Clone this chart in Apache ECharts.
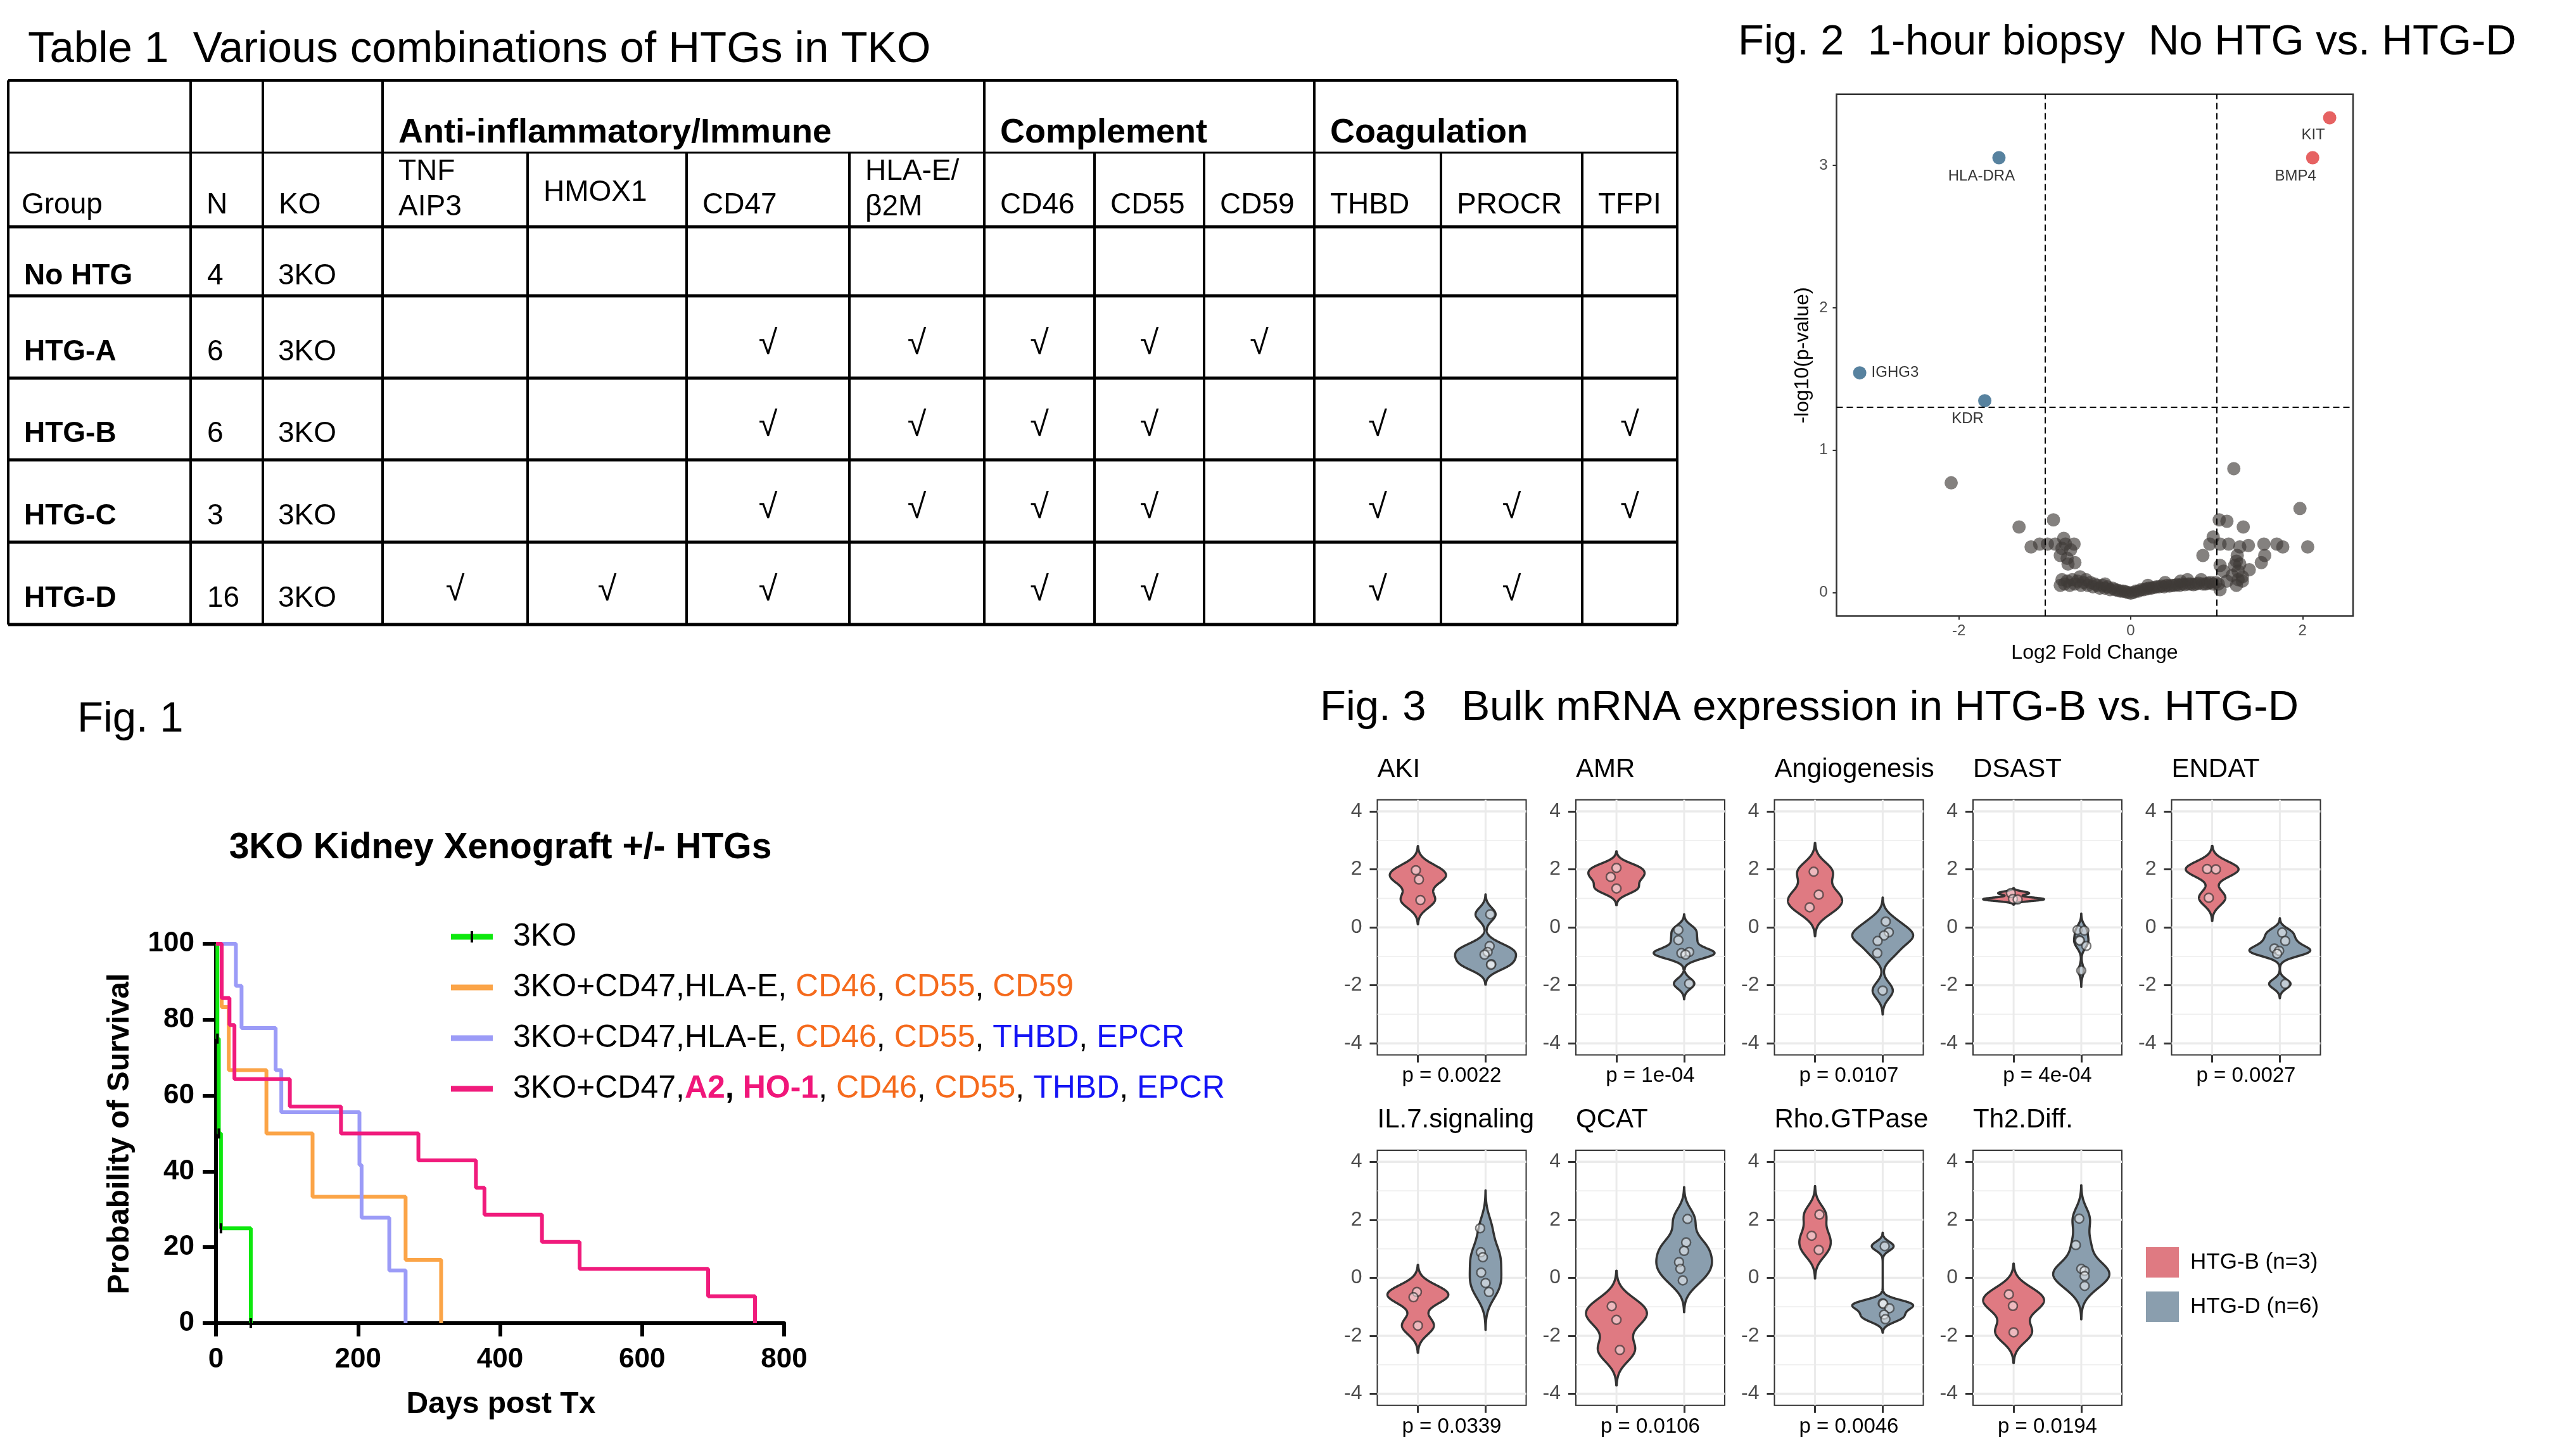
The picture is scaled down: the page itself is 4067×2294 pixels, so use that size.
<!DOCTYPE html>
<html><head><meta charset="utf-8">
<script src="https://cdn.jsdelivr.net/npm/echarts@6/dist/echarts.min.js"></script>
<style>html,body{margin:0;padding:0;background:#fff}#c{width:4067px;height:2294px}</style>
</head><body><div id="c"></div>
<script>
// ===================== DATA =====================
// Table 1
const tableGroupHeaders = ['Anti-inflammatory/Immune', 'Complement', 'Coagulation'];
const tableColHeaders = ['Group', 'N', 'KO', 'TNF\nAIP3', 'HMOX1', 'CD47', 'HLA-E/\n\u03b22M', 'CD46', 'CD55', 'CD59', 'THBD', 'PROCR', 'TFPI'];
const tableGroups = ['No HTG', 'HTG-A', 'HTG-B', 'HTG-C', 'HTG-D'];
const tableN = ['4', '6', '6', '3', '16'];
const tableKO = ['3KO', '3KO', '3KO', '3KO', '3KO'];
// checks for columns TNFAIP3..TFPI
const tableChecks = [
  [0,0,0,0,0,0,0,0,0,0],
  [0,0,1,1,1,1,1,0,0,0],
  [0,0,1,1,1,1,0,1,0,1],
  [0,0,1,1,1,1,0,1,1,1],
  [1,1,1,0,1,1,0,1,1,0]
];

// Fig. 1 Kaplan-Meier
const kmNames = ['3KO', '3KO+CD47,HLA-E, CD46, CD55, CD59', '3KO+CD47,HLA-E, CD46, CD55, THBD, EPCR', '3KO+CD47,A2, HO-1, CD46, CD55, THBD, EPCR'];
const km3KODays = [0, 2, 4, 7, 49];
const km3KOSurv = [100, 75, 50, 25, 0];
const kmADays = [0, 8, 18, 71, 136, 267, 317];
const kmASurv = [100, 83.3, 66.7, 50, 33.3, 16.7, 0];
const kmBDays = [0, 28, 36, 84, 92, 202, 205, 244, 267];
const kmBSurv = [100, 88.9, 77.8, 66.7, 55.6, 41.7, 27.8, 13.9, 0];
const kmDDays = [0, 8, 19, 26, 104, 176, 285, 366, 378, 459, 512, 693, 759];
const kmDSurv = [100, 85.7, 78.6, 64.3, 57.1, 50, 42.9, 35.7, 28.6, 21.4, 14.3, 7.1, 0];
const kmXTicks = [0, 200, 400, 600, 800];
const kmYTicks = [0, 20, 40, 60, 80, 100];

// Fig. 2 volcano
const volcanoNS = [
[-2.09,0.77],[1.20,0.87],[1.97,0.59],[-0.90,0.51],[-1.30,0.46],[1.03,0.51],[1.12,0.50],[1.31,0.46],
[-1.16,0.32],[-1.06,0.34],[-0.97,0.34],[-0.88,0.34],[-0.78,0.38],[-0.76,0.34],[-0.66,0.34],[-0.80,0.31],[-0.82,0.26],[-0.74,0.24],[-0.65,0.21],[-0.73,0.20],[-0.70,0.30],
[0.96,0.39],[0.92,0.34],[1.04,0.34],[1.14,0.34],[1.27,0.32],[1.37,0.33],[1.55,0.34],[1.70,0.34],[1.77,0.32],[2.06,0.32],[0.84,0.26],[1.24,0.26],[1.56,0.26],[1.52,0.21],[1.23,0.22],[1.21,0.19],[1.38,0.16],[1.04,0.19],[1.08,0.15],[1.30,0.11],[1.30,0.08],[1.25,0.09],[1.27,0.20],[1.25,0.15],[1.02,0.06],[1.12,0.08],[1.23,0.05],[1.04,0.02],[1.18,0.12],
[-0.82,0.05],[-0.80,0.09],[-0.77,0.06],[-0.74,0.08],[-0.71,0.05],[-0.68,0.09],[-0.65,0.06],[-0.62,0.08],[-0.59,0.11],[-0.58,0.05],[-0.55,0.07],[-0.52,0.09],[-0.50,0.05],[-0.47,0.07],[-0.44,0.04],[-0.42,0.06],[-0.39,0.05],[-0.36,0.03],[-0.33,0.05],[-0.30,0.03],[-0.27,0.04],[-0.24,0.02],[-0.21,0.03],[-0.18,0.02],[-0.15,0.015],[-0.12,0.01],[-0.09,0.01],[-0.06,0.005],[-0.03,0.0],[0.0,-0.005],[0.03,0.0],[0.06,0.01],[0.09,0.01],[0.12,0.02],[0.15,0.02],[0.18,0.025],[0.21,0.03],[0.24,0.03],[0.27,0.035],[0.30,0.04],[0.33,0.04],[0.36,0.045],[0.39,0.04],[0.42,0.05],[0.45,0.045],[0.48,0.05],[0.51,0.05],[0.54,0.055],[0.57,0.05],[0.60,0.06],[0.63,0.055],[0.66,0.09],[0.67,0.06],[0.70,0.06],[0.73,0.055],[0.76,0.06],[0.79,0.065],[0.82,0.09],[0.84,0.06],[0.87,0.06],[0.90,0.065],[0.93,0.07],[0.96,0.06],[0.99,0.07],[0.58,0.08],[0.40,0.07],[-0.30,0.06],[0.20,0.05]
];
const volcanoDownGenes = ['HLA-DRA', 'IGHG3', 'KDR'];
const volcanoDownValues = [[-1.534, 3.054], [-3.155, 1.543], [-1.699, 1.347]];
const volcanoUpGenes = ['KIT', 'BMP4'];
const volcanoUpValues = [[2.316, 3.335], [2.118, 3.054]];
const volcanoFcCut = 1;
const volcanoPCut = 1.30103;
const volcanoXTicks = [-2, 0, 2];
const volcanoYTicks = [0, 1, 2, 3];

// Fig. 3 violins
const violinPanels = ['AKI', 'AMR', 'Angiogenesis', 'DSAST', 'ENDAT', 'IL.7.signaling', 'QCAT', 'Rho.GTPase', 'Th2.Diff.'];
const violinPValues = ['p = 0.0022', 'p = 1e-04', 'p = 0.0107', 'p = 4e-04', 'p = 0.0027', 'p = 0.0339', 'p = 0.0106', 'p = 0.0046', 'p = 0.0194'];
const violinGroups = ['HTG-B (n=3)', 'HTG-D (n=6)'];
const htgB = [
  [1.97, 1.65, 0.94], [2.05, 1.74, 1.34], [1.92, 1.13, 0.69], [1.18, 0.98, 0.96], [2.01, 2.00, 1.02],
  [-0.49, -0.67, -1.65], [-0.98, -1.45, -2.49], [2.18, 1.45, 0.96], [-0.57, -0.97, -1.88]
];
const htgBJitter = [
  [-0.03, 0.015, 0.037], [0, -0.085, 0], [-0.02, 0.055, -0.08], [-0.04, -0.01, 0.06], [-0.075, 0.055, -0.05],
  [-0.015, -0.065, 0], [-0.07, 0, 0.05], [0.065, -0.05, 0.055], [-0.07, -0.01, 0]
];
const htgD = [
  [0.45, -0.65, -0.85, -0.94, -1.27, -1.29], [-0.09, -0.44, -0.85, -0.89, -0.94, -1.94], [0.20, -0.17, -0.28, -0.47, -0.89, -2.18],
  [-0.09, -0.11, -0.44, -0.46, -0.64, -1.49], [-0.18, -0.47, -0.73, -0.81, -0.91, -1.95], [1.71, 0.88, 0.71, 0.18, -0.18, -0.49],
  [2.03, 1.22, 0.93, 0.54, 0.31, -0.09], [1.09, -0.88, -0.90, -1.05, -1.27, -1.43], [2.04, 1.13, 0.31, 0.24, 0.06, -0.28]
];
const htgDJitter = [
  [0.07, 0.06, 0.03, -0.015, 0.085, 0.08], [-0.085, -0.085, 0.075, -0.04, 0.02, 0.075], [0.045, 0.09, 0.02, -0.075, -0.08, 0],
  [-0.055, 0.045, -0.03, -0.02, 0.075, 0], [0.035, 0.08, -0.08, -0.01, -0.04, 0.08], [-0.08, -0.07, -0.04, -0.065, 0, 0.05],
  [0.05, 0.03, 0, -0.075, -0.055, -0.02], [0.03, 0, 0.01, 0.1, 0.02, 0.04], [-0.03, -0.08, 0, 0.05, 0.05, 0.05]
];
const violinYTicks = [-4, -2, 0, 2, 4];
const violinYMinor = [-3, -1, 1, 3];

// ===================== STYLE / LAYOUT =====================
const FONT = "'Liberation Sans', Arial, Helvetica, sans-serif";
const W = 4067, H = 2294;
const colX = [13, 301, 415, 604, 833, 1084, 1341, 1554, 1728, 1901, 2075, 2275, 2498, 2648];
const rowY = [127, 241, 358, 467, 597, 726, 856, 986];
const groupHeaderCols = [[3, 6], [7, 9], [10, 12]];

const kmColors = ['#0ee80e', '#fba447', '#9b9bf7', '#f01b7c'];
const richStyles = {
  k: { color: '#000', fontSize: 50, fontFamily: FONT },
  o: { color: '#f56a1c', fontSize: 50, fontFamily: FONT },
  b: { color: '#1414f5', fontSize: 50, fontFamily: FONT },
  m: { color: '#f0167a', fontSize: 50, fontFamily: FONT, fontWeight: 'bold' },
  kb: { color: '#000', fontSize: 50, fontFamily: FONT, fontWeight: 'bold' }
};
const kmLegendRich = {};
kmLegendRich[kmNames[0]] = '{k|3KO}';
kmLegendRich[kmNames[1]] = '{k|3KO+CD47,HLA-E, }{o|CD46}{k|, }{o|CD55}{k|, }{o|CD59}';
kmLegendRich[kmNames[2]] = '{k|3KO+CD47,HLA-E, }{o|CD46}{k|, }{o|CD55}{k|, }{b|THBD}{k|, }{b|EPCR}';
kmLegendRich[kmNames[3]] = '{k|3KO+CD47,}{m|A2}{kb|, }{m|HO-1}{k|, }{o|CD46}{k|, }{o|CD55}{k|, }{b|THBD}{k|, }{b|EPCR}';

const violinColors = ['#df7a82', '#8a9eae'];
const vLeft = [2174.5, 2488, 2801.5, 3115, 3428.5];
const vTop = [1262.7, 1816];
const vW = 235, vH = 402.8;
const volcanoLabelOffset = { 'KIT': [-26, 27.5], 'BMP4': [-27, 29], 'HLA-DRA': [-27.5, 29], 'KDR': [-27, 28.5] };

// ===================== HELPERS =====================
const G = [];
function txt(s, x, y, size, opts) {
  opts = opts || {};
  G.push({
    type: 'text', x: x, y: y, rotation: opts.rot || 0, z: 10, silent: true,
    style: {
      text: s, fill: opts.color || '#000', fontSize: size, fontFamily: opts.family || FONT,
      fontWeight: opts.bold ? 'bold' : 'normal', align: opts.align || 'left', verticalAlign: 'middle'
    }
  });
}
function line(x1, y1, x2, y2, w, color) {
  G.push({ type: 'line', z: 9, silent: true, shape: { x1: x1, y1: y1, x2: x2, y2: y2 }, style: { stroke: color || '#000', lineWidth: w } });
}

// ---------- Titles
txt('Table 1  Various combinations of HTGs in TKO', 44, 79, 69);
txt('Fig. 2  1-hour biopsy  No HTG vs. HTG-D', 2744, 68, 67);
txt('Fig. 1', 122, 1137, 67);
txt('Fig. 3   Bulk mRNA expression in HTG-B vs. HTG-D', 2084, 1119, 67);

// ---------- Table
rowY.forEach(function (y, i) { line(colX[0], y, colX[13], y, i === 1 ? 3 : (i === 0 ? 4 : 5)); });
[0, 1, 2, 3, 7, 10, 13].forEach(function (c) { line(colX[c], rowY[0], colX[c], rowY[1], 4); });
colX.forEach(function (x) { line(x, rowY[1], x, rowY[7], 4); });
tableGroupHeaders.forEach(function (s, i) { txt(s, colX[groupHeaderCols[i][0]] + 25, 210, 54, { bold: true }); });
tableColHeaders.forEach(function (s, c) {
  const x = colX[c] + (c === 0 ? 21 : 25);
  const parts = s.split('\n');
  if (parts.length === 2) { txt(parts[0], x, 271, 46); txt(parts[1], x, 327, 46); }
  else txt(s, x, s === 'HMOX1' ? 304 : 324, 46);
});
tableGroups.forEach(function (g, r) {
  const cy = (rowY[r + 2] + rowY[r + 3]) / 2;
  txt(g, 38, cy + 24, 46, { bold: true });
  txt(tableN[r], colX[1] + 26, cy + 24, 46);
  txt(tableKO[r], colX[2] + 24, cy + 24, 46);
  tableChecks[r].forEach(function (v, k) {
    if (v) txt('\u221a', (colX[k + 3] + colX[k + 4]) / 2, cy + 12, 54, { align: 'center' });
  });
});

// ---------- Fig 1 texts
txt('3KO Kidney Xenograft +/- HTGs', 790, 1339, 57, { bold: true, align: 'center' });
txt('Days post Tx', 791, 2218, 48, { bold: true, align: 'center' });
txt('Probability of Survival', 190, 1790, 48, { bold: true, align: 'center', rot: Math.PI / 2 });
// censor tick drawn on the 3KO legend key
line(745, 1470, 745, 1488, 4, '#000');

// ---------- Fig 2 texts
txt('Log2 Fold Change', 3307, 1031, 32, { align: 'center' });
txt('-log10(p-value)', 2846, 561, 32, { align: 'center', rot: Math.PI / 2 });

// ---------- Fig 3 texts
violinPanels.forEach(function (name, i) {
  const r = i < 5 ? 0 : 1, c = i < 5 ? i : i - 5;
  txt(name, vLeft[c], r === 0 ? 1215 : 1768, 42);
  txt(violinPValues[i], vLeft[c] + vW / 2, r === 0 ? 1699 : 2253, 33, { align: 'center' });
});

// ===================== STATS for violins (ggplot-like gaussian KDE, bw.nrd0) =====================
function q7(s, p) { const h = (s.length - 1) * p, lo = Math.floor(h), hi = Math.min(lo + 1, s.length - 1); return s[lo] + (h - lo) * (s[hi] - s[lo]); }
function bwNrd0(x) {
  const n = x.length, m = x.reduce(function (a, b) { return a + b; }, 0) / n;
  const sd = Math.sqrt(x.reduce(function (a, b) { return a + (b - m) * (b - m); }, 0) / (n - 1));
  const s = x.slice().sort(function (a, b) { return a - b; });
  let lo = Math.min(sd, (q7(s, 0.75) - q7(s, 0.25)) / 1.34);
  if (!(lo > 0)) lo = sd > 0 ? sd : 1;
  return 0.9 * lo * Math.pow(n, -0.2);
}
function kde(x) {
  const bw = bwNrd0(x), lo = Math.min.apply(null, x) - 3 * bw, hi = Math.max.apply(null, x) + 3 * bw;
  const ys = [], ds = [];
  for (let k = 0; k < 512; k++) {
    const y = lo + (hi - lo) * k / 511; let s = 0;
    x.forEach(function (xi) { const z = (y - xi) / bw; s += Math.exp(-0.5 * z * z); });
    ys.push(y); ds.push(s / (x.length * bw * Math.sqrt(2 * Math.PI)));
  }
  return { y: ys, d: ds };
}
const dens = violinPanels.map(function (_, i) { return [kde(htgB[i]), kde(htgD[i])]; });
const densMax = dens.map(function (p) { return Math.max(Math.max.apply(null, p[0].d), Math.max.apply(null, p[1].d)); });

// ===================== ECHARTS OPTION =====================
const grids = [], xAxes = [], yAxes = [], series = [];

// Fig 1 grid
grids.push({ left: 341, top: 1490, width: 897, height: 599 });
const kmAxisLabel = { fontSize: 44, fontWeight: 'bold', color: '#000', fontFamily: FONT };
xAxes.push({ gridIndex: 0, type: 'value', min: kmXTicks[0], max: kmXTicks[kmXTicks.length - 1], interval: 200,
  axisLine: { show: true, onZero: false, lineStyle: { color: '#000', width: 6 } }, axisTick: { show: true, length: 21, lineStyle: { color: '#000', width: 6 } },
  axisLabel: Object.assign({ margin: 36 }, kmAxisLabel), splitLine: { show: false } });
yAxes.push({ gridIndex: 0, type: 'value', min: kmYTicks[0], max: kmYTicks[kmYTicks.length - 1], interval: 20,
  axisLine: { show: true, onZero: false, lineStyle: { color: '#000', width: 6 } }, axisTick: { show: true, length: 21, lineStyle: { color: '#000', width: 6 } },
  axisLabel: Object.assign({ margin: 34 }, kmAxisLabel), splitLine: { show: false } });
function kmData(days, surv) { return days.map(function (d, i) { return [d, surv[i]]; }); }
const kmSets = [[km3KODays, km3KOSurv], [kmADays, kmASurv], [kmBDays, kmBSurv], [kmDDays, kmDSurv]];
kmSets.forEach(function (s, i) {
  const data = kmData(s[0], s[1]);
  const ser = { type: 'line', name: kmNames[i], xAxisIndex: 0, yAxisIndex: 0, step: 'end', clip: false, animation: false, z: 3 + i,
    lineStyle: { color: kmColors[i], width: 6 }, itemStyle: { color: kmColors[i] }, data: data };
  if (i === 0) {
    ser.symbol = 'rect'; ser.symbolSize = [4, 16]; ser.showSymbol = true;
    ser.itemStyle = { color: '#000' };
    ser.data = data.map(function (p, k) { return k === 0 ? { value: p, symbolSize: 0 } : p; });
  } else { ser.symbol = 'none'; }
  series.push(ser);
});

// Fig 2 grid
grids.push({ left: 2899.5, top: 148.8, width: 815.5, height: 823.7, show: true, borderColor: '#333', borderWidth: 2.5, backgroundColor: 'transparent' });
const volAxisLabel = { fontSize: 24, color: '#4d4d4d', fontFamily: FONT };
xAxes.push({ gridIndex: 1, type: 'value', min: -3.425, max: 2.588, axisLine: { show: false, onZero: false },
  axisTick: { show: true, length: 6, customValues: volcanoXTicks, lineStyle: { color: '#333', width: 2 } },
  axisLabel: Object.assign({ customValues: volcanoXTicks, margin: 12 }, volAxisLabel), splitLine: { show: false } });
yAxes.push({ gridIndex: 1, type: 'value', min: -0.165, max: 3.5, axisLine: { show: false, onZero: false },
  axisTick: { show: true, length: 6, customValues: volcanoYTicks, lineStyle: { color: '#333', width: 2 } },
  axisLabel: Object.assign({ customValues: volcanoYTicks, margin: 14 }, volAxisLabel), splitLine: { show: false } });
series.push({ type: 'scatter', name: 'NS', xAxisIndex: 1, yAxisIndex: 1, symbolSize: 21, z: 3, animation: false, silent: true,
  itemStyle: { color: 'rgba(62,58,54,0.8)' }, data: volcanoNS,
  markLine: { silent: true, symbol: ['none', 'none'], animation: false, label: { show: false },
    lineStyle: { color: '#000', width: 2, type: [10, 6] },
    data: [{ xAxis: -volcanoFcCut }, { xAxis: volcanoFcCut }, { yAxis: volcanoPCut }] } });
function volItems(genes, vals) {
  return genes.map(function (g, i) {
    const it = { name: g, value: vals[i] };
    if (volcanoLabelOffset[g]) it.label = { position: 'inside', offset: volcanoLabelOffset[g] };
    else it.label = { position: 'right', distance: 8 };
    return it;
  });
}
const volLabel = { show: true, formatter: '{b}', fontSize: 24, color: '#000', fontFamily: FONT };
series.push({ type: 'scatter', name: 'Down', xAxisIndex: 1, yAxisIndex: 1, symbolSize: 21, z: 4, animation: false, silent: true,
  itemStyle: { color: '#2d6387' }, label: volLabel, data: volItems(volcanoDownGenes, volcanoDownValues) });
series.push({ type: 'scatter', name: 'Up', xAxisIndex: 1, yAxisIndex: 1, symbolSize: 21, z: 4, animation: false, silent: true,
  itemStyle: { color: '#e03b3b' }, label: volLabel, data: volItems(volcanoUpGenes, volcanoUpValues) });

// Fig 3 grids
violinPanels.forEach(function (name, i) {
  const r = i < 5 ? 0 : 1, c = i < 5 ? i : i - 5, gi = 2 + i;
  grids.push({ left: vLeft[c], top: vTop[r], width: vW, height: vH, show: true, borderColor: '#333', borderWidth: 2, backgroundColor: 'transparent' });
  xAxes.push({ gridIndex: gi, type: 'value', min: 0.4, max: 2.6, axisLine: { show: false, onZero: false },
    axisTick: { show: true, length: 12, customValues: [1, 2], lineStyle: { color: '#333', width: 3 } },
    axisLabel: { show: false }, splitLine: { show: false } });
  yAxes.push({ gridIndex: gi, type: 'value', min: -4.4, max: 4.4, axisLine: { show: false, onZero: false },
    axisTick: { show: true, length: 12, customValues: violinYTicks, lineStyle: { color: '#333', width: 3 } },
    axisLabel: { customValues: violinYTicks, margin: 24, fontSize: 32, color: '#4d4d4d', fontFamily: FONT }, splitLine: { show: false } });
  // grid lines
  series.push({ type: 'custom', name: 'grid' + i, xAxisIndex: gi, yAxisIndex: gi, z: 1, silent: true, animation: false,
    data: [[1, 0]], encode: { x: 0, y: 1 },
    renderItem: function (params, api) {
      const ch = [];
      violinYTicks.forEach(function (v) { const a = api.coord([0.4, v]), b = api.coord([2.6, v]);
        ch.push({ type: 'line', shape: { x1: a[0], y1: a[1], x2: b[0], y2: b[1] }, style: { stroke: '#ebebeb', lineWidth: 3.4 } }); });
      violinYMinor.forEach(function (v) { const a = api.coord([0.4, v]), b = api.coord([2.6, v]);
        ch.push({ type: 'line', shape: { x1: a[0], y1: a[1], x2: b[0], y2: b[1] }, style: { stroke: '#efefef', lineWidth: 1.8 } }); });
      [1, 2].forEach(function (v) { const a = api.coord([v, -4.4]), b = api.coord([v, 4.4]);
        ch.push({ type: 'line', shape: { x1: a[0], y1: a[1], x2: b[0], y2: b[1] }, style: { stroke: '#ebebeb', lineWidth: 3 } }); });
      return { type: 'group', children: ch };
    } });
  // violins
  [0, 1].forEach(function (g) {
    const d = dens[i][g], mx = densMax[i], cx = g + 1;
    series.push({ type: 'custom', name: violinGroups[g], xAxisIndex: gi, yAxisIndex: gi, z: 3, silent: true, animation: false,
      itemStyle: { color: violinColors[g] }, data: [[cx, 0]], encode: { x: 0, y: 1 },
      renderItem: function (params, api) {
        const pts = [];
        for (let k = 0; k < d.y.length; k++) pts.push(api.coord([cx - 0.45 * d.d[k] / mx, d.y[k]]));
        for (let k = d.y.length - 1; k >= 0; k--) pts.push(api.coord([cx + 0.45 * d.d[k] / mx, d.y[k]]));
        return { type: 'polygon', shape: { points: pts }, style: { fill: violinColors[g], stroke: '#333333', lineWidth: 3.5, lineJoin: 'round' } };
      } });
  });
  // points
  const pts = [];
  htgB[i].forEach(function (v, k) { pts.push([1 + htgBJitter[i][k], v]); });
  htgD[i].forEach(function (v, k) { pts.push([2 + htgDJitter[i][k], v]); });
  series.push({ type: 'scatter', name: 'pts' + i, xAxisIndex: gi, yAxisIndex: gi, z: 4, silent: true, animation: false, symbolSize: 14,
    itemStyle: { color: 'rgba(255,255,255,0.6)', borderColor: 'rgba(40,40,40,0.8)', borderWidth: 2.5 }, data: pts });
});

const option = {
  backgroundColor: '#fff',
  animation: false,
  textStyle: { fontFamily: FONT },
  grid: grids, xAxis: xAxes, yAxis: yAxes, series: series,
  legend: [
    { data: kmNames.map(function (n, i) { return { name: n, icon: 'rect', itemStyle: { color: kmColors[i] } }; }),
      orient: 'vertical', left: 712, top: 1451,
      itemWidth: 66, itemHeight: 9, itemGap: 24, padding: 0, selectedMode: false,
      textStyle: { fontSize: 50, lineHeight: 56, fontFamily: FONT, color: '#000', padding: [0, 0, 0, 27], rich: richStyles },
      formatter: function (n) { return kmLegendRich[n]; } },
    { data: violinGroups, orient: 'vertical', left: 3388, top: 1969, itemWidth: 52, itemHeight: 48, itemGap: 22, padding: 0,
      icon: 'rect', selectedMode: false,
      textStyle: { fontSize: 35, fontFamily: FONT, color: '#000', padding: [0, 0, 0, 13] } }
  ],
  graphic: { elements: G }
};
const chart = echarts.init(document.getElementById('c'), null, { renderer: 'canvas', width: W, height: H });
chart.setOption(option);
</script></body></html>
